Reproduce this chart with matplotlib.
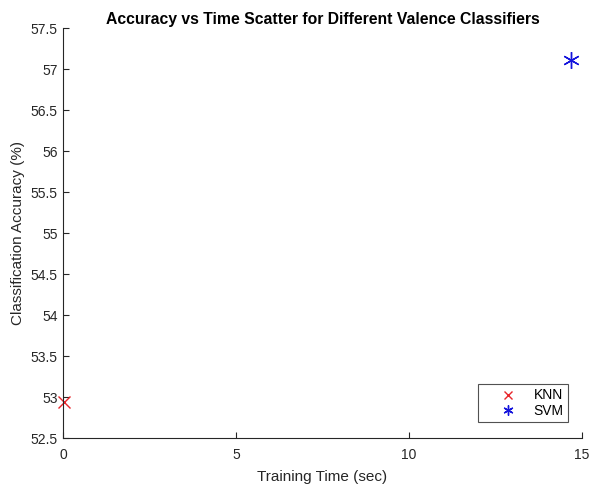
import matplotlib
matplotlib.use("Agg")
import matplotlib.pyplot as plt

plt.rcParams['font.family'] = ['Liberation Sans', 'DejaVu Sans']

classifiers = ["KNN", "SVM"]
train_time = [0.02, 14.68]
accuracy = [52.94, 57.11]
colors = ["#e8262b", "#1414dc"]

fig = plt.figure(figsize=(5.9, 4.87), dpi=100)
ax = fig.add_axes([0.1068, 0.1006, 0.8796, 0.8419])

ax.plot([train_time[0]], [accuracy[0]], linestyle="none", marker="x", markersize=8.5,
        markeredgecolor=colors[0], markeredgewidth=1.0, label=classifiers[0], clip_on=False)
ax.plot([train_time[1]], [accuracy[1]], linestyle="none", marker=(6, 2, 0), markersize=12,
        markeredgecolor=colors[1], markerfacecolor=colors[1], markeredgewidth=1.0,
        label=classifiers[1], clip_on=False)

ax.set_xlim(0, 15)
ax.set_ylim(52.5, 57.5)
ax.set_xticks([0, 5, 10, 15])
ax.set_yticks([52.5, 53, 53.5, 54, 54.5, 55, 55.5, 56, 56.5, 57, 57.5])
ax.set_yticklabels(["52.5", "53", "53.5", "54", "54.5", "55", "55.5", "56", "56.5", "57", "57.5"])

for s in ["top", "right"]:
    ax.spines[s].set_visible(False)
for s in ["left", "bottom"]:
    ax.spines[s].set_color("#262626")
    ax.spines[s].set_linewidth(0.8)
ax.tick_params(direction="in", length=4, colors="#262626", labelsize=10, width=0.8)
ax.tick_params(axis="x", pad=7)
ax.tick_params(axis="y", pad=4)

ax.set_xlabel("Training Time (sec)", fontsize=11, color="#262626", labelpad=6)
ax.set_ylabel("Classification Accuracy (%)", fontsize=11, color="#262626", labelpad=4)
ax.set_title("Accuracy vs Time Scatter for Different Valence Classifiers",
             fontsize=11.3, fontweight="bold", color="black", pad=3)

leg = ax.legend(loc="lower right", bbox_to_anchor=(0.973, 0.039), borderaxespad=0,
                fontsize=10, frameon=True, fancybox=False, edgecolor="#262626",
                borderpad=0.3, handlelength=3.7, handletextpad=0.0, labelspacing=0.1,
                markerscale=0.6)
leg.get_frame().set_linewidth(0.8)

fig.savefig("out.png", dpi=100)
